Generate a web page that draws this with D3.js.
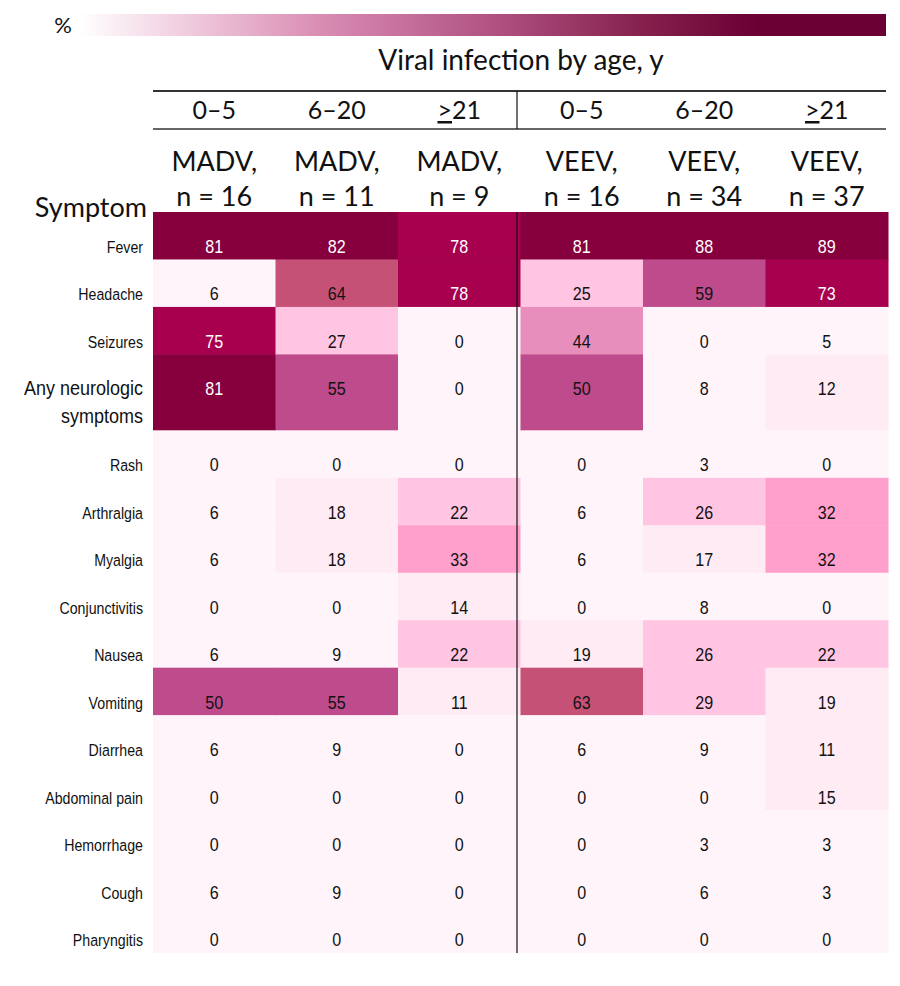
<!DOCTYPE html>
<html><head><meta charset="utf-8">
<script src="https://cdn.jsdelivr.net/npm/d3@7"></script>
<style>body{margin:0;background:#fff}svg{display:block}</style>
</head><body>
<script>
const symptoms = ["Fever","Headache","Seizures","Any neurologic symptoms","Rash","Arthralgia","Myalgia","Conjunctivitis","Nausea","Vomiting","Diarrhea","Abdominal pain","Hemorrhage","Cough","Pharyngitis"];
const ageLabels = ["0–5","6–20","≥21","0–5","6–20","≥21"];
const groupLabels = ["MADV,","MADV,","MADV,","VEEV,","VEEV,","VEEV,"];
const nLabels = ["n = 16","n = 11","n = 9","n = 16","n = 34","n = 37"];
const columns = ["MADV 0–5","MADV 6–20","MADV ≥21","VEEV 0–5","VEEV 6–20","VEEV ≥21"];
const madv0_5  = [81, 6, 75, 81, 0, 6, 6, 0, 6, 50, 6, 0, 0, 6, 0];
const madv6_20 = [82, 64, 27, 55, 0, 18, 18, 0, 9, 55, 9, 0, 0, 9, 0];
const madv21   = [78, 78, 0, 0, 0, 22, 33, 14, 22, 11, 0, 0, 0, 0, 0];
const veev0_5  = [81, 25, 44, 50, 0, 6, 6, 0, 19, 63, 6, 0, 0, 0, 0];
const veev6_20 = [88, 59, 0, 8, 3, 26, 17, 8, 26, 29, 9, 0, 3, 6, 0];
const veev21   = [89, 73, 5, 12, 0, 32, 32, 0, 22, 19, 11, 15, 3, 3, 0];
const series = [madv0_5, madv6_20, madv21, veev0_5, veev6_20, veev21];
const colorBreaks = [10, 20, 30, 40, 50, 60, 70, 80];
const colorBins = ["#fff4f9","#ffebf4","#ffc5e2","#ff9fcb","#e88ebc","#be4b8b","#c65176","#a6004f","#86003e"];
const rowWeights = symptoms.map(s => s === "Any neurologic symptoms" ? 1.6 : 1);

const W = 900, H = 986;
const svg = d3.select("body").append("svg").attr("width", W).attr("height", H);
const headFont = "Lato, 'Open Sans', sans-serif";
const cellFont = "Arial, 'Liberation Sans', sans-serif";

const x = d3.scaleBand().domain(columns).range([153, 888]);
const cum = [0]; rowWeights.forEach((w,i)=>cum.push(cum[i]+w));
const y = d3.scaleLinear().domain([0, cum[cum.length-1]]).range([212, 952.5]);
const color = d3.scaleThreshold().domain(colorBreaks).range(colorBins);

// legend gradient
const defs = svg.append("defs");
const grad = defs.append("linearGradient").attr("id","lg").attr("x1","0%").attr("x2","100%");
[[0,"#ffffff"],[0.12,"#f2d0e1"],[0.3,"#d98cb3"],[0.5,"#b35585"],[0.7,"#85204d"],[0.84,"#6a0033"],[1,"#6a0033"]]
  .forEach(([o,c])=>grad.append("stop").attr("offset",o).attr("stop-color",c));
svg.append("rect").attr("x",80).attr("y",14).attr("width",806).attr("height",22).attr("fill","url(#lg)");
svg.append("text").attr("x",63).attr("y",33).attr("text-anchor","middle").attr("font-family",headFont)
  .attr("font-size",22).attr("fill","#111").text("%");

svg.append("text").attr("x",521).attr("y",70).attr("text-anchor","middle").attr("font-family",headFont)
  .attr("font-size",28).attr("fill","#111").text("Viral infection by age, y");

// header rules
svg.append("line").attr("x1",153).attr("x2",886).attr("y1",91).attr("y2",91).attr("stroke","#333").attr("stroke-width",2);
svg.append("line").attr("x1",153).attr("x2",886).attr("y1",129).attr("y2",129).attr("stroke","#333").attr("stroke-width",1.5);

// age labels
columns.forEach((c,i)=>{
  const t = svg.append("text").attr("x", x(c)+x.bandwidth()/2).attr("y",119).attr("text-anchor","middle")
    .attr("font-family",headFont).attr("font-size",25).attr("fill","#111");
  const lab = ageLabels[i];
  if (lab.startsWith("≥")) {
    t.append("tspan").attr("text-decoration","underline").text(">");
    t.append("tspan").text(lab.slice(1));
  } else t.text(lab);
  svg.append("text").attr("x", x(c)+x.bandwidth()/2).attr("y",171).attr("text-anchor","middle")
    .attr("font-family",headFont).attr("font-size",27).attr("fill","#111").text(groupLabels[i]);
  svg.append("text").attr("x", x(c)+x.bandwidth()/2).attr("y",206).attr("text-anchor","middle")
    .attr("font-family",headFont).attr("font-size",27).attr("fill","#111").text(nLabels[i]);
});
svg.append("text").attr("x",147).attr("y",217).attr("text-anchor","end").attr("font-family",headFont)
  .attr("font-size",27).attr("fill","#111").text("Symptom");

// cells
const cells = [];
series.forEach((vals, ci) => vals.forEach((v, ri) => cells.push({col: columns[ci], row: ri, v})));
svg.append("g").selectAll("rect").data(cells).join("rect")
  .attr("x", d => x(d.col)).attr("y", d => y(cum[d.row]))
  .attr("width", x.bandwidth()+0.5).attr("height", d => y(cum[d.row+1]) - y(cum[d.row]) + 0.5)
  .attr("fill", d => color(d.v));
svg.append("g").selectAll("text").data(cells).join("text")
  .attr("transform", d => `translate(${x(d.col)+x.bandwidth()/2},${y(cum[d.row]) + 41}) scale(0.92,1)`)
  .attr("text-anchor","middle").attr("font-family",cellFont).attr("font-size",17.5)
  .attr("fill", d => d.v >= 70 ? "#fff" : "#111").text(d => d.v);

// row labels
symptoms.forEach((s, ri) => {
  const t = svg.append("text").attr("text-anchor","end")
    .attr("font-family",cellFont).attr("fill","#111");
  if (s === "Any neurologic symptoms") {
    t.attr("transform", `translate(143,${y(cum[ri]) + 41}) scale(0.9,1)`).attr("font-size",20);
    t.append("tspan").attr("x",0).text("Any neurologic");
    t.append("tspan").attr("x",0).attr("dy",28).text("symptoms");
  } else {
    t.attr("transform", `translate(143,${y(cum[ri]) + 41}) scale(0.86,1)`).attr("font-size",16.5).text(s);
  }
});

// divider
svg.append("line").attr("x1",517).attr("x2",517).attr("y1",91).attr("y2",129).attr("stroke","#111").attr("stroke-width",1.2);
svg.append("line").attr("x1",517).attr("x2",517).attr("y1",212).attr("y2",953).attr("stroke","#111").attr("stroke-width",1.2);
</script>
</body></html>
